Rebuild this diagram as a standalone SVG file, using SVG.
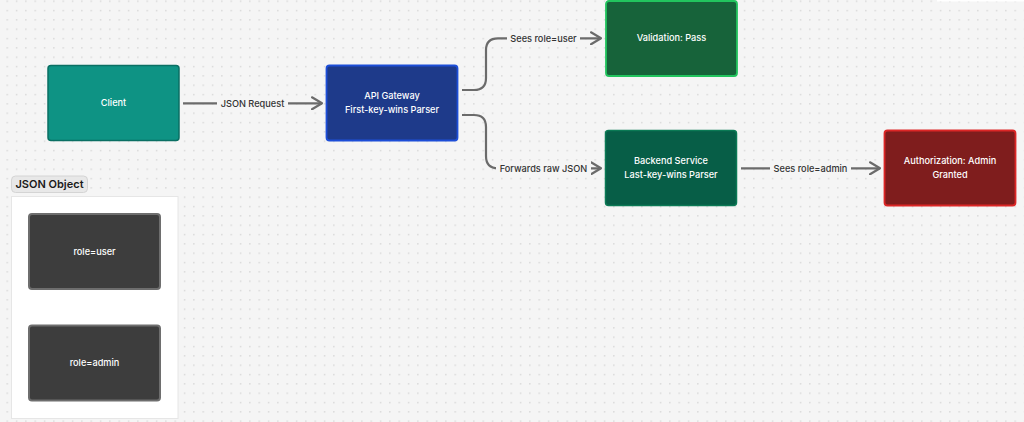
<svg xmlns="http://www.w3.org/2000/svg" width="1024" height="422" viewBox="0 0 1024 422">
<defs>
<pattern id="dots" x="6.5" y="0.5" width="9.333" height="9.333" patternUnits="userSpaceOnUse">
<rect x="0" y="0" width="1.4" height="1.4" fill="#d6d6d6"/>
</pattern>
<marker id="arr" viewBox="0 0 12 14" refX="11" refY="7" markerWidth="12" markerHeight="14" markerUnits="userSpaceOnUse" orient="auto">
<path d="M1,1 L11,7 L1,13" fill="none" stroke="#6b6b6b" stroke-width="2.2" stroke-linecap="round" stroke-linejoin="round"/>
</marker>
<style>
.node text{font-family:Inter,"Liberation Sans",sans-serif;font-size:9.2px;fill:#ffffff;text-anchor:middle;font-weight:500}
.edge{fill:none;stroke:#6b6b6b;stroke-width:2.2}
.lbl{font-family:Inter,"Liberation Sans",sans-serif;font-size:9.2px;fill:#333333;text-anchor:middle;font-weight:500}
.lblbg{fill:#f5f5f5}
.role rect{fill:#3d3d3d;stroke:#6e6e6e;stroke-width:2}
</style>
</defs>
<rect width="1024" height="422" fill="#f5f5f5"/>
<rect width="1024" height="422" fill="url(#dots)"/>
<rect x="937" y="0" width="87" height="1.5" fill="#ffffff"/>

<g id="json-object">
<rect x="11.5" y="196.5" width="166.5" height="222" fill="#ffffff" stroke="#e6e6e6" stroke-width="1"/>
<rect x="11.5" y="176" width="76" height="16.5" rx="4" fill="#e8e8e8" stroke="#d4d4d4" stroke-width="1"/>
<text x="49.5" y="188.2" font-family="Inter,'Liberation Sans',sans-serif" font-size="11" font-weight="600" fill="#1a1a1a" text-anchor="middle">JSON Object</text>
</g>

<g id="role-user" class="node role">
<rect x="29" y="214" width="131" height="75" rx="3"/>
<text x="94.5" y="255">role=user</text>
</g>
<g id="role-admin" class="node role">
<rect x="29" y="325.5" width="131" height="75" rx="3"/>
<text x="94.5" y="366">role=admin</text>
</g>

<g id="connectors">
<path class="edge" d="M183,103.3 L322,103.3" marker-end="url(#arr)"/>
<rect class="lblbg" x="217" y="96" width="71" height="14"/>
<text class="lbl" x="252.5" y="106.5">JSON Request</text>

<path class="edge" d="M462,90 L474,90 Q486,90 486,78 L486,50 Q486,38.3 498,38.3 L601,38.3" marker-end="url(#arr)"/>
<rect class="lblbg" x="507" y="31" width="73" height="14"/>
<text class="lbl" x="543.5" y="41.5">Sees role=user</text>

<path class="edge" d="M462,115 L474,115 Q486,115 486,127 L486,156 Q486,168.3 498,168.3 L601,168.3" marker-end="url(#arr)"/>
<rect class="lblbg" x="496" y="161" width="95" height="14"/>
<text class="lbl" x="543.5" y="171.5">Forwards raw JSON</text>

<path class="edge" d="M741,168.3 L880,168.3" marker-end="url(#arr)"/>
<rect class="lblbg" x="770" y="161" width="81" height="14"/>
<text class="lbl" x="810.5" y="171.5">Sees role=admin</text>
</g>

<g id="client" class="node">
<rect x="48" y="65.5" width="131" height="75" rx="3" fill="#0e9384" stroke="#0a6f63" stroke-width="1.5"/>
<text x="113.5" y="106.3">Client</text>
</g>

<g id="api-gateway" class="node">
<rect x="326.5" y="65.5" width="131" height="75" rx="3" fill="#1e3a8a" stroke="#1d4ed8" stroke-width="1.8"/>
<text x="392" y="99.3">API Gateway</text>
<text x="392" y="113.3">First-key-wins Parser</text>
</g>

<g id="validation" class="node">
<rect x="606" y="1" width="131" height="75" rx="3" fill="#17633a" stroke="#22c55e" stroke-width="1.8"/>
<text x="671.5" y="41.3">Validation: Pass</text>
</g>

<g id="backend" class="node">
<rect x="605.5" y="130.5" width="131" height="75" rx="3" fill="#075e47" stroke="#0b7a55" stroke-width="1.5"/>
<text x="671" y="164.3">Backend Service</text>
<text x="671" y="178.3">Last-key-wins Parser</text>
</g>

<g id="authorization" class="node">
<rect x="884.5" y="130.5" width="131" height="75" rx="3" fill="#7f1d1d" stroke="#dc2626" stroke-width="1.8"/>
<text x="950" y="164.3">Authorization: Admin</text>
<text x="950" y="178.3">Granted</text>
</g>
</svg>
